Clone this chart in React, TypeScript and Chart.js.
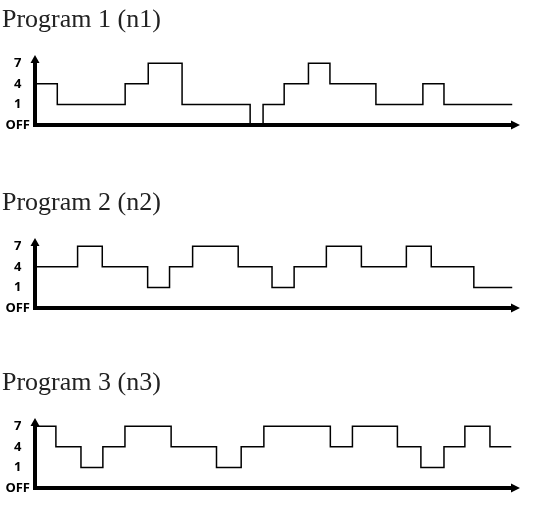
import React, { useEffect, useRef } from 'react';
import { Chart, registerables } from 'chart.js';

Chart.register(...registerables);

// Level scale (tick labels) and the numeric level each one represents
const levelLabels = ['OFF', '1', '4', '7'];
const levelValues = [0, 1, 4, 7];

// Time of each step (hours from start) and the level that starts there
const program1Times = [0, 1.12, 4.53, 5.69, 7.39, 10.81, 11.46, 12.52, 13.74, 14.82, 17.13, 19.49, 20.55, 23.98];
const program1Levels = [4, 1, 4, 7, 1, 0, 1, 4, 7, 4, 1, 4, 1, 1];

const program2Times = [0, 2.14, 3.38, 5.66, 6.76, 7.92, 10.21, 11.91, 13.02, 14.64, 16.4, 18.66, 19.91, 22.05, 23.98];
const program2Levels = [4, 7, 4, 1, 4, 7, 4, 1, 4, 7, 4, 7, 4, 1, 1];

const program3Times = [0, 1.05, 2.31, 3.41, 4.52, 6.84, 9.12, 10.36, 11.5, 14.84, 15.95, 18.21, 19.39, 20.55, 21.6, 22.86, 23.93];
const program3Levels = [7, 4, 1, 4, 7, 4, 1, 4, 7, 4, 7, 4, 1, 4, 7, 4, 4];

const programTitles = ['Program 1 (n1)', 'Program 2 (n2)', 'Program 3 (n3)'];
const hourMax = 24.37;
const levelMax = 3.4;

const axisArrows = {
  id: 'axisArrows',
  afterDatasetsDraw(chart: any) {
    const { ctx, chartArea } = chart;
    const { left, right, top, bottom } = chartArea;
    ctx.save();
    ctx.strokeStyle = '#000';
    ctx.fillStyle = '#000';
    ctx.lineWidth = 4;
    ctx.lineCap = 'butt';
    ctx.beginPath();
    ctx.moveTo(left - 2, bottom);
    ctx.lineTo(right - 7, bottom);
    ctx.stroke();
    ctx.beginPath();
    ctx.moveTo(left, bottom + 2);
    ctx.lineTo(left, top + 6);
    ctx.stroke();
    ctx.beginPath();
    ctx.moveTo(right, bottom);
    ctx.lineTo(right - 9, bottom - 4.5);
    ctx.lineTo(right - 9, bottom + 4.5);
    ctx.closePath();
    ctx.fill();
    ctx.beginPath();
    ctx.moveTo(left, top);
    ctx.lineTo(left - 4.5, top + 8);
    ctx.lineTo(left + 4.5, top + 8);
    ctx.closePath();
    ctx.fill();
    ctx.restore();
  },
};

function StepChart({ title, times, levels, top }: { title: string; times: number[]; levels: number[]; top: number }) {
  const ref = useRef<HTMLCanvasElement | null>(null);
  useEffect(() => {
    if (!ref.current) return;
    const chart = new Chart(ref.current, {
      type: 'line',
      data: {
        datasets: [
          {
            data: times.map((t, i) => ({ x: t, y: levelValues.indexOf(levels[i]) })),
            stepped: true,
            borderColor: '#000',
            borderWidth: 1.5,
            pointRadius: 0,
            fill: false,
            clip: false as any,
          },
        ],
      },
      options: {
        animation: false,
        responsive: false,
        layout: { padding: { left: 2, right: 22, top: 0, bottom: 20 } },
        plugins: {
          legend: { display: false },
          tooltip: { enabled: false },
          title: {
            display: true,
            text: title,
            align: 'start',
            color: '#222',
            font: { family: '"Liberation Serif", serif', size: 26, weight: 'normal', lineHeight: 1.2 },
            padding: { top: 5, bottom: 18.8 },
          },
        },
        scales: {
          x: { type: 'linear', min: 0, max: hourMax, display: false },
          y: {
            type: 'linear',
            min: 0,
            max: levelMax,
            grid: { display: false, drawTicks: false },
            border: { display: false },
            afterFit: (s: any) => {
              s.width = 33;
            },
            afterBuildTicks: (s: any) => {
              s.ticks = levelLabels.map((_, i) => ({ value: i }));
            },
            ticks: {
              padding: 5,
              crossAlign: 'center',
              color: '#000',
              font: { family: '"Open Sans", sans-serif', size: 13, weight: 'bold' },
              callback: (v: any) => levelLabels[v as number],
            },
          },
        },
      } as any,
      plugins: [axisArrows],
    });
    return () => chart.destroy();
  }, [title, times, levels]);
  return (
    <div style={{ position: 'absolute', left: 0, top, width: 542, height: 145 }}>
      <canvas ref={ref} width={542} height={145} />
    </div>
  );
}

export default function App() {
  return (
    <div style={{ position: 'absolute', left: 0, top: 0, width: 542, height: 512, overflow: 'hidden', background: '#fff' }}>
      <StepChart title={programTitles[0]} times={program1Times} levels={program1Levels} top={0} />
      <StepChart title={programTitles[1]} times={program2Times} levels={program2Levels} top={183} />
      <StepChart title={programTitles[2]} times={program3Times} levels={program3Levels} top={363} />
    </div>
  );
}
